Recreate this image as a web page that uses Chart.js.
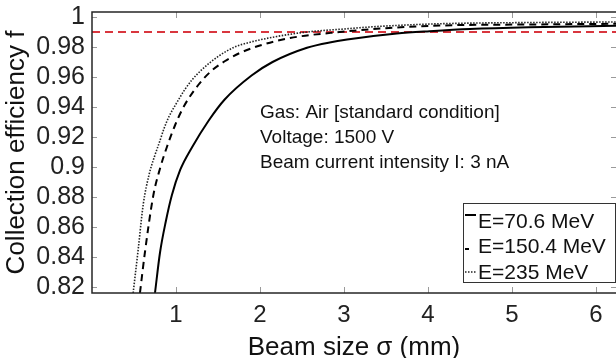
<!DOCTYPE html>
<html>
<head>
<meta charset="utf-8">
<script src="https://cdn.jsdelivr.net/npm/chart.js@4.4.1/dist/chart.umd.min.js"></script>
<style>
  html, body { margin: 0; padding: 0; background: #fff; }
</style>
</head>
<body>
<canvas id="chart" width="616" height="358"></canvas>
<script>
// values
const seriesLabels = ['E=70.6 MeV', 'E=150.4 MeV', 'E=235 MeV']

const sigma706 = [0.75, 0.81, 0.88, 0.95, 1.05, 1.19, 1.39, 1.58, 1.9, 2.15, 2.56, 2.83, 3.35, 3.63, 4.02, 4.5, 5.2, 6.3]
const eff706   = [0.816, 0.843, 0.864, 0.881, 0.898, 0.913, 0.931, 0.945, 0.961, 0.970, 0.9795, 0.983, 0.9873, 0.989, 0.9905, 0.992, 0.9932, 0.9942]

const sigma1504 = [0.571, 0.63, 0.73, 0.81, 0.89, 0.99, 1.1, 1.27, 1.42, 1.58, 1.76, 2.0, 2.36, 2.95, 3.5, 4.14, 5.2, 6.3]
const eff1504   = [0.816, 0.843, 0.881, 0.899, 0.913, 0.928, 0.941, 0.955, 0.964, 0.9705, 0.976, 0.981, 0.986, 0.990, 0.9925, 0.9943, 0.995, 0.9955]

const sigma235 = [0.49, 0.55, 0.61, 0.68, 0.75, 0.80, 0.86, 0.92, 0.99, 1.11, 1.19, 1.31, 1.51, 1.70, 1.87, 2.2, 2.56, 3.0, 3.35, 4.14, 5.2, 6.3]
const eff235   = [0.816, 0.845, 0.875, 0.895, 0.908, 0.916, 0.926, 0.934, 0.941, 0.952, 0.958, 0.965, 0.974, 0.980, 0.983, 0.987, 0.990, 0.992, 0.9935, 0.9955, 0.9963, 0.9967]

const threshold = 0.99
const xTicks = [1, 2, 3, 4, 5, 6]
const yTicks = [0.82, 0.84, 0.86, 0.88, 0.9, 0.92, 0.94, 0.96, 0.98, 1]
const notes = ['Gas: Air [standard condition]', 'Voltage: 1500 V', 'Beam current intensity I: 3 nA']

const FONT = "'Liberation Sans', Arial, sans-serif"
const toPoints = (xs, ys) => xs.map((x, i) => ({ x, y: ys[i] }))

const framePlugin = {
  id: 'frame',
  afterDraw(chart) {
    const { ctx, chartArea: a, scales: { x, y } } = chart
    ctx.save()
    // inner tick marks on all four sides
    ctx.strokeStyle = '#9a9a9a'
    ctx.lineWidth = 1
    ctx.beginPath()
    xTicks.forEach(v => {
      const px = Math.round(x.getPixelForValue(v)) + 0.5
      ctx.moveTo(px, a.bottom); ctx.lineTo(px, a.bottom - 6)
      ctx.moveTo(px, a.top); ctx.lineTo(px, a.top + 6)
    })
    yTicks.forEach(v => {
      const py = Math.round(y.getPixelForValue(v)) + 0.5
      ctx.moveTo(a.left, py); ctx.lineTo(a.left + 5, py)
      ctx.moveTo(a.right, py); ctx.lineTo(a.right - 5, py)
    })
    ctx.stroke()
    // box
    ctx.strokeStyle = '#262626'
    ctx.lineWidth = 1.5
    ctx.strokeRect(a.left, a.top, a.right - a.left + 2, a.bottom - a.top)

    // notes
    ctx.fillStyle = '#111'
    ctx.font = '19px ' + FONT
    ctx.textBaseline = 'middle'
    notes.forEach((t, i) => ctx.fillText(t, a.left + 168, a.top + 101 + i * 25))

    // legend
    const lx = 463, ly = 203, lw = 153, lh = 79
    ctx.fillStyle = '#fff'
    ctx.fillRect(lx, ly, lw, lh)
    ctx.strokeStyle = '#333'
    ctx.lineWidth = 1
    ctx.strokeRect(lx + 0.5, ly + 0.5, lw - 1, lh)
    ctx.font = '21px ' + FONT
    const sampleY = [215, 249, 272]
    chart.data.datasets.slice(0, 3).forEach((ds, i) => {
      ctx.save()
      ctx.strokeStyle = ds.borderColor
      ctx.lineWidth = ds.borderWidth
      ctx.setLineDash(ds.borderDash || [])
      ctx.beginPath()
      ctx.moveTo(lx + 2, sampleY[i])
      ctx.lineTo(lx + (i === 1 ? 6 : 13), sampleY[i])
      ctx.stroke()
      ctx.restore()
      ctx.fillStyle = '#111'
      ctx.fillText(ds.label, lx + 15, ly + 19 + i * 25.5)
    })
    ctx.restore()
  }
}

new Chart(document.getElementById('chart'), {
  type: 'line',
  data: {
    datasets: [
      { label: seriesLabels[0], data: toPoints(sigma706, eff706), borderColor: '#000', borderWidth: 2 },
      { label: seriesLabels[1], data: toPoints(sigma1504, eff1504), borderColor: '#000', borderWidth: 2, borderDash: [7, 5] },
      { label: seriesLabels[2], data: toPoints(sigma235, eff235), borderColor: '#222', borderWidth: 1.6, borderDash: [1.5, 1.5] },
      { label: 'threshold', data: [{ x: 0, y: threshold }, { x: 6.3, y: threshold }], borderColor: '#d9363e', borderWidth: 2, borderDash: [8, 5] }
    ]
  },
  options: {
    responsive: false,
    animation: false,
    devicePixelRatio: 1,
    layout: { padding: { top: 12, right: 0, left: 0, bottom: 0 } },
    elements: { point: { radius: 0 }, line: { cubicInterpolationMode: 'monotone', fill: false } },
    plugins: { legend: { display: false }, tooltip: { enabled: false } },
    scales: {
      x: {
        type: 'linear', min: 0, max: 6.24,
        grid: { display: false, drawTicks: false }, border: { display: false },
        afterBuildTicks: s => { s.ticks = xTicks.map(v => ({ value: v })) },
        afterFit: s => { s.height = 65; s.paddingLeft = 0; s.paddingRight = 0 },
        ticks: { autoSkip: false, maxRotation: 0, color: '#222', padding: 8, font: { family: FONT, size: 24 }, callback: v => String(v) },
        title: { display: true, text: 'Beam size σ (mm)', color: '#111', font: { family: FONT, size: 26, lineHeight: 1 }, padding: { top: 0, bottom: -3 } }
      },
      y: {
        type: 'linear', min: 0.816, max: 1.00333,
        grid: { display: false, drawTicks: false }, border: { display: false },
        afterBuildTicks: s => { s.ticks = yTicks.map(v => ({ value: v })) },
        afterFit: s => { s.width = 92; s.paddingTop = 0; s.paddingBottom = 0 },
        ticks: { autoSkip: false, color: '#222', padding: 7, font: { family: FONT, size: 25 }, callback: v => String(v) },
        title: { display: true, text: 'Collection efficiency f', color: '#111', font: { family: FONT, size: 26, lineHeight: 1 }, padding: { top: 4, bottom: 0 } }
      }
    }
  },
  plugins: [framePlugin]
})
</script>
</body>
</html>
